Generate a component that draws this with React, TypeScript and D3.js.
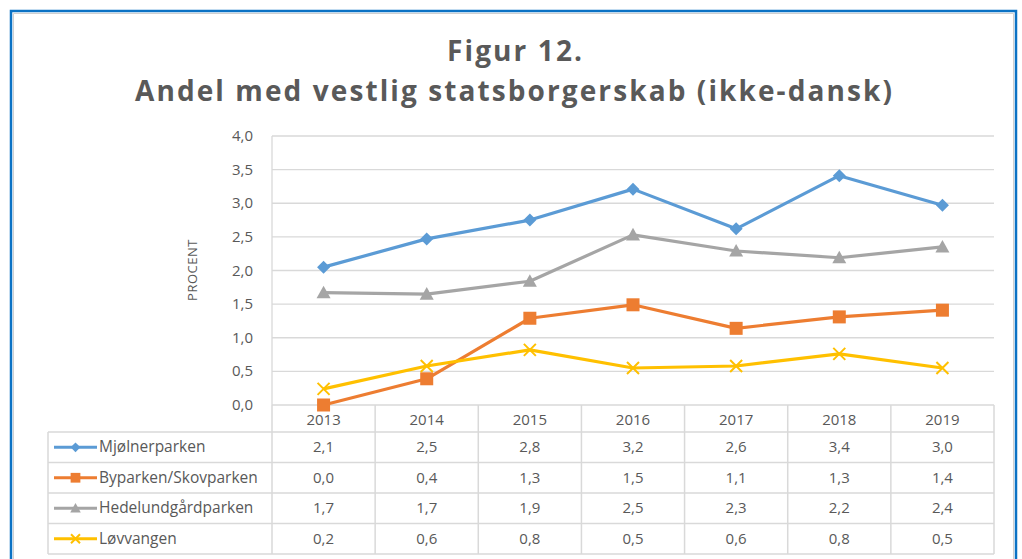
import React from "react";
import * as d3 from "d3";

const years = ["2013", "2014", "2015", "2016", "2017", "2018", "2019"];
const mjolner = [2.05, 2.47, 2.75, 3.21, 2.62, 3.41, 2.97];
const byparken = [0.0, 0.39, 1.29, 1.49, 1.14, 1.31, 1.41];
const hedelund = [1.67, 1.65, 1.84, 2.53, 2.29, 2.19, 2.35];
const lovvangen = [0.24, 0.58, 0.82, 0.55, 0.58, 0.76, 0.55];
const mjolnerLabels = ["2,1", "2,5", "2,8", "3,2", "2,6", "3,4", "3,0"];
const byparkenLabels = ["0,0", "0,4", "1,3", "1,5", "1,1", "1,3", "1,4"];
const hedelundLabels = ["1,7", "1,7", "1,9", "2,5", "2,3", "2,2", "2,4"];
const lovvangenLabels = ["0,2", "0,6", "0,8", "0,5", "0,6", "0,8", "0,5"];
const yTicks = [0, 0.5, 1, 1.5, 2, 2.5, 3, 3.5, 4];

const series = [
  { name: "Mjølnerparken", values: mjolner, labels: mjolnerLabels, color: "#5B9BD5", marker: "diamond" },
  { name: "Byparken/Skovparken", values: byparken, labels: byparkenLabels, color: "#ED7D31", marker: "square" },
  { name: "Hedelundgårdparken", values: hedelund, labels: hedelundLabels, color: "#A5A5A5", marker: "triangle" },
  { name: "Løvvangen", values: lovvangen, labels: lovvangenLabels, color: "#FFC000", marker: "x" },
];

const FONT = "'Open Sans', 'DejaVu Sans', sans-serif";
const TXT = "#595959";
const GRID = "#D9D9D9";

function Marker({ type, x, y, color, size = 1 }: { type: string; x: number; y: number; color: string; size?: number }) {
  const s = size;
  if (type === "diamond") {
    const r = 6.5 * s;
    return <path d={`M${x},${y - r}L${x + r},${y}L${x},${y + r}L${x - r},${y}Z`} fill={color} />;
  }
  if (type === "square") {
    const r = 6.5 * s;
    return <rect x={x - r} y={y - r} width={2 * r} height={2 * r} fill={color} />;
  }
  if (type === "triangle") {
    const r = 7 * s;
    return <path d={`M${x},${y - r}L${x + r},${y + r * 0.8}L${x - r},${y + r * 0.8}Z`} fill={color} />;
  }
  const r = 6 * s;
  return (
    <path d={`M${x - r},${y - r}L${x + r},${y + r}M${x - r},${y + r}L${x + r},${y - r}`} stroke={color} strokeWidth={2} />
  );
}

export default function App() {
  const left = 272;
  const right = 994;
  const top = 136;
  const bottom = 405;
  const x = d3.scaleBand<string>().domain(years).range([left, right]);
  const y = d3.scaleLinear().domain([0, 4]).range([bottom, top]);
  const line = d3
    .line<number>()
    .x((_, i) => (x(years[i]) as number) + x.bandwidth() / 2)
    .y((d) => y(d));

  const headerBottom = 432;
  const rowH = 30.5;
  const tableLeft = 48;
  const tableBottom = headerBottom + rowH * series.length;

  return (
    <svg width={1022} height={559} style={{ position: "absolute", left: 0, top: 0 }} fontFamily={FONT}>
      <rect x={0} y={0} width={1022} height={559} fill="#fff" />
      {/* frame */}
      <path d="M13.5,570 V13.5 H1013.5 V570" fill="none" stroke="#D0D0D0" strokeWidth={1} />
      <path d="M11,570 V11 H1016 V570" fill="none" stroke="#0B72C4" strokeWidth={2.5} />

      {/* title */}
      <text x={447} y={61} fontSize={28} fontWeight={700} fill={TXT} textLength={135} lengthAdjust="spacing">
        Figur 12.
      </text>
      <text x={135} y={101} fontSize={28} fontWeight={700} fill={TXT} textLength={757} lengthAdjust="spacing">
        Andel med vestlig statsborgerskab (ikke-dansk)
      </text>

      {/* grid */}
      {yTicks.map((t) => (
        <g key={t}>
          <line x1={left} x2={right} y1={y(t)} y2={y(t)} stroke={GRID} strokeWidth={1.3} />
          <text x={253} y={y(t) + 5} textAnchor="end" fontSize={15} fill={TXT}>
            {d3.format(".1f")(t).replace(".", ",")}
          </text>
        </g>
      ))}
      <line x1={left} x2={left} y1={top} y2={bottom} stroke={GRID} strokeWidth={1.3} />
      <text transform={`translate(197,270) rotate(-90)`} textAnchor="middle" fontSize={13} fill={TXT} letterSpacing={0.5}>
        PROCENT
      </text>

      {/* table */}
      {years.map((yr) => {
        const x0 = x(yr) as number;
        return (
          <g key={yr}>
            <line x1={x0} x2={x0} y1={bottom} y2={tableBottom} stroke={GRID} strokeWidth={1.5} />
            <text x={x0 + x.bandwidth() / 2} y={bottom + 20} textAnchor="middle" fontSize={15} fill={TXT}>
              {yr}
            </text>
          </g>
        );
      })}
      <line x1={right} x2={right} y1={bottom} y2={tableBottom} stroke={GRID} strokeWidth={1.5} />
      <line x1={tableLeft} x2={tableLeft} y1={headerBottom} y2={tableBottom} stroke={GRID} strokeWidth={1.5} />
      <line x1={tableLeft} x2={right} y1={headerBottom} y2={headerBottom} stroke={GRID} strokeWidth={1.5} />
      {series.map((s, si) => {
        const rowTop = headerBottom + rowH * si;
        const cy = rowTop + rowH / 2;
        return (
          <g key={s.name}>
            <line x1={tableLeft} x2={right} y1={rowTop + rowH} y2={rowTop + rowH} stroke={GRID} strokeWidth={1.5} />
            <line x1={54} x2={97} y1={cy} y2={cy} stroke={s.color} strokeWidth={3} />
            <Marker type={s.marker} x={75.5} y={cy} color={s.color} size={0.75} />
            <text x={99} y={cy + 5} fontSize={15.5} fill={TXT}>
              {s.name}
            </text>
            {s.labels.map((l, i) => (
              <text key={i} x={(x(years[i]) as number) + x.bandwidth() / 2} y={cy + 5} textAnchor="middle" fontSize={15} fill={TXT}>
                {l}
              </text>
            ))}
          </g>
        );
      })}

      {/* lines */}
      {series.map((s) => (
        <g key={s.name}>
          <path d={line(s.values) as string} fill="none" stroke={s.color} strokeWidth={3.2} strokeLinejoin="round" />
          {s.values.map((v, i) => (
            <Marker key={i} type={s.marker} x={(x(years[i]) as number) + x.bandwidth() / 2} y={y(v)} color={s.color} />
          ))}
        </g>
      ))}
    </svg>
  );
}
